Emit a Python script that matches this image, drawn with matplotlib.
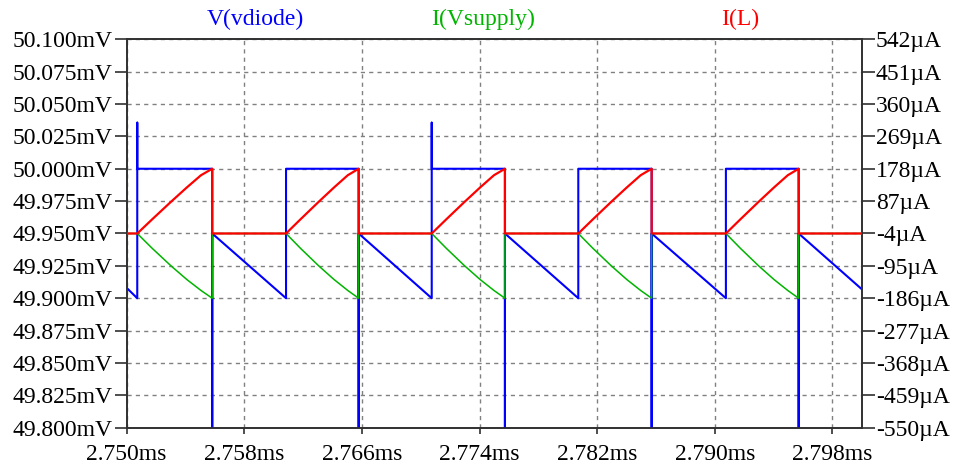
import matplotlib
matplotlib.use("Agg")
import matplotlib.pyplot as plt
import numpy as np
from matplotlib.ticker import FuncFormatter

plt.rcParams['font.family'] = ['Liberation Serif', 'DejaVu Serif']

# switching edges, in microseconds after 2.750 ms
rise_us = [0.72, 10.84, 20.75, 30.72, 40.76]
fall_us = [5.82, 15.78, 25.73, 35.71, 45.71]
spike_mv = [50.0356, None, 50.0356, None, None]   # overshoot at some rising edges
t_end_us = 50.0

# V(vdiode) levels (mV)
v_start = 49.908
v_high = 50.000
v_low = 49.900
v_after_fall = 49.950
v_dip = 49.70        # goes far below the visible range
v_end = 49.907

# currents (uA)
i_base = -4
il_peak = 178
isup_min = -186
# ramp shape during on time (fraction of time, fraction of swing)
ramp_u = [0, 0.2, 0.45, 0.66, 0.85, 1.0]
il_f = [0, 0.22, 0.49, 0.71, 0.90, 1.0]
isup_f = [0, 0.23, 0.50, 0.71, 0.88, 1.0]

t0 = 2.750

# build polylines
vt, vv = [0.0], [v_start]
lt, lv = [0.0], [i_base]
st, sv = [0.0], [i_base]
for k, (r, f) in enumerate(zip(rise_us, fall_us)):
    vt += [r, r, r, f, f, f]
    vv += [v_low, spike_mv[k] or v_high, v_high, v_high, v_dip, v_after_fall]
    lt += [r] + [r + u*(f - r) for u in ramp_u] + [f]
    lv += [i_base] + [i_base + a*(il_peak - i_base) for a in il_f] + [i_base]
    st += [r] + [r + u*(f - r) for u in ramp_u] + [f]
    sv += [i_base] + [i_base + a*(isup_min - i_base) for a in isup_f] + [i_base]
vt.append(t_end_us); vv.append(v_end)
lt.append(t_end_us); lv.append(i_base)
st.append(t_end_us); sv.append(i_base)

vt = t0 + np.array(vt)/1000
lt = t0 + np.array(lt)/1000
st = t0 + np.array(st)/1000

fig = plt.figure(figsize=(9.56, 4.66), dpi=100)
ax = fig.add_axes([0.1325, 0.0822, 0.9014-0.1325, 0.9157-0.0822])
ax2 = ax.twinx()

ax.plot(vt, vv, color='#0000ff', lw=1.5, zorder=3)
ax.set_xlim(2.750, 2.800)
ax.set_ylim(49.800, 50.100)
ax.set_yticks(np.linspace(49.800, 50.100, 13))
ax.set_xticks(np.linspace(2.750, 2.798, 7))
ax.yaxis.set_major_formatter(FuncFormatter(lambda v, p: f'{v:.3f}mV'))
ax.xaxis.set_major_formatter(FuncFormatter(lambda v, p: f'{v:.3f}ms'))
ax.grid(True, color='#808080', linestyle=(0, (3, 3)), lw=1)

ax2.plot(st, sv, color='#00b400', lw=1.1, zorder=3)
ax2.plot(lt, lv, color='#ff0000', lw=1.6, zorder=4)
ax2.set_ylim(-550, 542)
ax2.set_yticks(np.arange(-550, 543, 91))
ax2.yaxis.set_major_formatter(FuncFormatter(lambda v, p: f'{v:.0f}µA'))
ax2.set_xlim(2.750, 2.800)

for a in (ax, ax2):
    for s in a.spines.values():
        s.set_color('#303030')
        s.set_linewidth(1.2)
ax.tick_params(axis='y', length=9, width=1.2, pad=1, labelsize=17, color='#303030')
ax.tick_params(axis='x', length=4, width=1.2, pad=8, labelsize=17, color='#303030')
ax2.tick_params(axis='y', length=9, width=1.2, pad=1, labelsize=17, color='#303030')

fig.text(255/956, 1-19/466, 'V(vdiode)', color='#0000ff', fontsize=17, ha='center', va='center')
fig.text(483/956, 1-19/466, 'I(Vsupply)', color='#00b400', fontsize=17, ha='center', va='center')
fig.text(740/956, 1-19/466, 'I(L)', color='#ff0000', fontsize=17, ha='center', va='center')

fig.savefig('out.png', dpi=100)
